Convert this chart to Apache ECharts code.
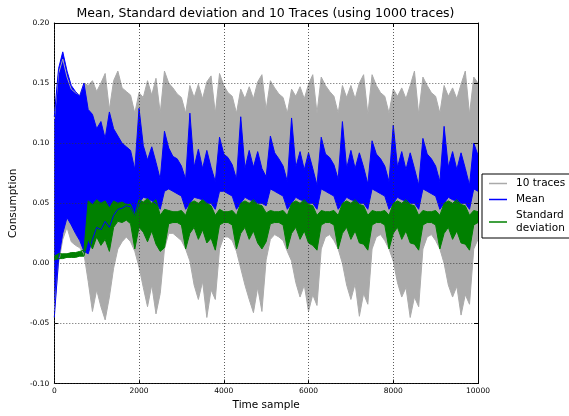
<!DOCTYPE html>
<html>
<head>
<meta charset="utf-8">
<script src="https://cdn.jsdelivr.net/npm/echarts@6/dist/echarts.min.js"></script>
<style>
html, body { margin: 0; padding: 0; background: #fff; }
#chart { width: 569px; height: 416px; }
</style>
</head>
<body>
<div id="chart"></div>
<script>
// envelopes, one value every 100 samples (0 .. 10000)
var samples = [];
for (var s = 0; s <= 10000; s += 100) samples.push(String(s));

var traceMax = [
	0.120, 0.158, 0.170, 0.155, 0.145, 0.142, 0.140, 0.150, 0.148, 0.152,
	0.143, 0.150, 0.158, 0.128, 0.152, 0.160, 0.146, 0.143, 0.140, 0.125,
	0.142, 0.138, 0.152, 0.140, 0.154, 0.125, 0.160, 0.150, 0.146, 0.141,
	0.138, 0.125, 0.148, 0.138, 0.149, 0.137, 0.151, 0.156, 0.125, 0.158,
	0.148, 0.142, 0.139, 0.125, 0.145, 0.137, 0.147, 0.137, 0.151, 0.157,
	0.128, 0.152, 0.146, 0.141, 0.138, 0.125, 0.145, 0.139, 0.147, 0.137,
	0.149, 0.157, 0.125, 0.155, 0.148, 0.143, 0.139, 0.125, 0.148, 0.138,
	0.148, 0.137, 0.150, 0.157, 0.124, 0.157, 0.148, 0.142, 0.139, 0.125,
	0.145, 0.139, 0.146, 0.137, 0.148, 0.160, 0.124, 0.155, 0.148, 0.142,
	0.139, 0.125, 0.148, 0.139, 0.146, 0.137, 0.149, 0.160, 0.124, 0.155, 0.150
];
var traceMin = [
	-0.040, 0.000, 0.020, 0.030, 0.018, 0.015, 0.013, 0.008, -0.015, -0.040,
	-0.022, -0.036, -0.047, -0.028, -0.004, 0.012, 0.018, 0.022, 0.018, 0.010,
	-0.003, -0.020, -0.036, -0.018, -0.042, -0.025, 0.012, 0.025, 0.025, 0.022,
	0.019, 0.012, 0.002, -0.018, -0.030, -0.015, -0.045, -0.022, -0.030, 0.012,
	0.022, 0.022, 0.019, 0.010, -0.004, -0.018, -0.030, -0.041, -0.020, -0.040,
	0.003, 0.020, 0.024, 0.022, 0.019, 0.010, 0.002, -0.016, -0.028, -0.018,
	-0.040, -0.026, -0.035, 0.012, 0.022, 0.024, 0.019, 0.012, 0.000, -0.018,
	-0.030, -0.017, -0.044, -0.025, -0.034, 0.012, 0.022, 0.024, 0.019, 0.012,
	0.002, -0.016, -0.028, -0.020, -0.045, -0.028, -0.036, 0.012, 0.022, 0.024,
	0.019, 0.012, 0.000, -0.018, -0.028, -0.019, -0.043, -0.026, -0.034, 0.012, 0.020
];
var meanMax = [
	0.122, 0.162, 0.176, 0.160, 0.148, 0.143, 0.139, 0.150, 0.128, 0.124,
	0.112, 0.118, 0.104, 0.126, 0.112, 0.106, 0.100, 0.097, 0.094, 0.078,
	0.129, 0.098, 0.086, 0.097, 0.084, 0.070, 0.110, 0.096, 0.089, 0.087,
	0.081, 0.070, 0.125, 0.080, 0.095, 0.079, 0.094, 0.080, 0.068, 0.105,
	0.091, 0.088, 0.082, 0.070, 0.122, 0.079, 0.094, 0.080, 0.093, 0.079,
	0.072, 0.106, 0.092, 0.087, 0.081, 0.068, 0.121, 0.080, 0.093, 0.078,
	0.092, 0.079, 0.065, 0.105, 0.091, 0.088, 0.082, 0.070, 0.118, 0.079,
	0.094, 0.079, 0.092, 0.080, 0.066, 0.102, 0.091, 0.087, 0.081, 0.068,
	0.115, 0.080, 0.093, 0.078, 0.092, 0.079, 0.065, 0.104, 0.091, 0.087,
	0.081, 0.068, 0.114, 0.080, 0.093, 0.078, 0.092, 0.079, 0.065, 0.100, 0.090
];
var meanMin = [
	-0.045, 0.003, 0.025, 0.038, 0.032, 0.025, 0.019, 0.010, 0.008, 0.020,
	0.030, 0.028, 0.035, 0.030, 0.040, 0.045, 0.046, 0.048, 0.047, 0.040,
	0.050, 0.055, 0.054, 0.052, 0.050, 0.045, 0.060, 0.062, 0.060, 0.058,
	0.056, 0.045, 0.050, 0.055, 0.054, 0.053, 0.050, 0.050, 0.045, 0.060,
	0.060, 0.058, 0.056, 0.045, 0.050, 0.055, 0.053, 0.052, 0.050, 0.050,
	0.048, 0.062, 0.060, 0.058, 0.056, 0.045, 0.050, 0.055, 0.053, 0.052,
	0.050, 0.050, 0.045, 0.062, 0.060, 0.058, 0.056, 0.045, 0.050, 0.055,
	0.053, 0.052, 0.050, 0.050, 0.045, 0.062, 0.060, 0.058, 0.056, 0.045,
	0.050, 0.055, 0.053, 0.052, 0.050, 0.050, 0.045, 0.062, 0.060, 0.058,
	0.056, 0.045, 0.050, 0.055, 0.053, 0.052, 0.050, 0.050, 0.045, 0.062, 0.060
];
var stdMax = [
	0.006, 0.008, 0.008, 0.008, 0.009, 0.009, 0.010, 0.011, 0.052, 0.049,
	0.053, 0.050, 0.052, 0.046, 0.052, 0.050, 0.051, 0.049, 0.049, 0.040,
	0.053, 0.051, 0.054, 0.050, 0.053, 0.040, 0.045, 0.044, 0.043, 0.043,
	0.044, 0.040, 0.050, 0.052, 0.050, 0.053, 0.050, 0.048, 0.040, 0.045,
	0.043, 0.043, 0.044, 0.040, 0.050, 0.052, 0.050, 0.053, 0.049, 0.048,
	0.042, 0.044, 0.043, 0.043, 0.044, 0.040, 0.050, 0.052, 0.050, 0.053,
	0.049, 0.048, 0.040, 0.044, 0.043, 0.043, 0.044, 0.040, 0.050, 0.052,
	0.050, 0.053, 0.049, 0.048, 0.040, 0.044, 0.043, 0.043, 0.044, 0.040,
	0.050, 0.052, 0.050, 0.053, 0.049, 0.048, 0.040, 0.044, 0.043, 0.043,
	0.044, 0.040, 0.050, 0.052, 0.050, 0.053, 0.049, 0.048, 0.040, 0.044, 0.043
];
var stdMin = [
	0.003, 0.004, 0.004, 0.005, 0.005, 0.005, 0.006, 0.006, 0.020, 0.012,
	0.022, 0.015, 0.020, 0.010, 0.030, 0.035, 0.034, 0.036, 0.033, 0.012,
	0.030, 0.026, 0.018, 0.027, 0.016, 0.010, 0.013, 0.033, 0.034, 0.034,
	0.032, 0.012, 0.025, 0.030, 0.020, 0.028, 0.017, 0.021, 0.011, 0.032,
	0.034, 0.034, 0.032, 0.012, 0.025, 0.030, 0.020, 0.027, 0.017, 0.012,
	0.018, 0.033, 0.034, 0.034, 0.032, 0.012, 0.025, 0.030, 0.020, 0.027,
	0.017, 0.015, 0.011, 0.032, 0.034, 0.034, 0.032, 0.012, 0.025, 0.030,
	0.020, 0.027, 0.017, 0.016, 0.011, 0.032, 0.034, 0.034, 0.032, 0.012,
	0.025, 0.030, 0.020, 0.027, 0.017, 0.016, 0.011, 0.032, 0.034, 0.034,
	0.032, 0.012, 0.025, 0.030, 0.020, 0.027, 0.017, 0.016, 0.011, 0.032, 0.034
];

var yTicks = { min: -0.10, max: 0.20, interval: 0.05 };
var LABEL_EVERY = 19; // one x label each 2000 samples (20 categories)

var FONT = 'DejaVu Sans';

// a band = lower line + stacked (hi - lo) area on top of it
function band(name, lo, hi, color, key) {
	var span = [];
	for (var i = 0; i < lo.length; i++) span.push(+(hi[i] - lo[i]).toFixed(4));
	return [
		{
			name: key + '_low',
			type: 'line',
			stack: key,
			stackStrategy: 'all',
			data: lo,
			symbol: 'none',
			silent: true,
			lineStyle: { color: color, width: 1 },
			itemStyle: { color: color }
		},
		{
			name: name,
			type: 'line',
			stack: key,
			stackStrategy: 'all',
			data: span,
			symbol: 'none',
			silent: true,
			lineStyle: { color: color, width: 1 },
			itemStyle: { color: color },
			areaStyle: { color: color, opacity: 1 }
		}
	];
}

function xAxisBase(extra) {
	var a = {
		type: 'category',
		data: samples,
		boundaryGap: false,
		axisLine: { onZero: false, lineStyle: { color: '#000', width: 1 } },
		axisTick: { inside: true, length: 4, interval: LABEL_EVERY, lineStyle: { color: '#000' } }
	};
	for (var k in extra) a[k] = extra[k];
	return a;
}

var myChart = echarts.init(document.getElementById('chart'));

var option = {
	animation: false,
	title: {
		text: 'Mean, Standard deviation and 10 Traces (using 1000 traces)',
		left: 265.5,
		top: 7,
		padding: 0,
		textAlign: 'center',
		textStyle: { fontFamily: FONT, fontSize: 12.5, fontWeight: 'normal', color: '#000' }
	},
	legend: {
		data: ['10 traces', 'Mean', 'Standard deviation'],
		orient: 'vertical',
		left: 482,
		top: 174,
		padding: [3, 8, 3, 7],
		itemGap: 3,
		itemWidth: 18,
		itemHeight: 1.5,
		icon: 'rect',
		borderColor: '#000',
		borderWidth: 1,
		borderRadius: 0,
		selectedMode: false,
		formatter: function (n) {
			return n === 'Standard deviation' ? 'Standard\ndeviation' : n;
		},
		textStyle: { fontFamily: FONT, fontSize: 10.5, color: '#000', lineHeight: 13, padding: [0, 0, 0, 4] }
	},
	grid: { left: 54, right: 91, top: 23, bottom: 28 },
	xAxis: [
		xAxisBase({
			name: 'Time sample', nameLocation: 'middle', nameGap: 15.5,
			nameTextStyle: { fontFamily: FONT, fontSize: 10.5, color: '#000' },
			axisLabel: { fontFamily: FONT, fontSize: 7.5, color: '#000', margin: 3.5, interval: LABEL_EVERY },
			splitLine: { show: false }
		}),
		xAxisBase({
			position: 'top',
			z: 10,
			axisLabel: { show: false },
			splitLine: { show: true, interval: LABEL_EVERY, lineStyle: { color: '#333', width: 0.8, type: [1, 2] } }
		})
	],
	yAxis: [
		{
			type: 'value', min: yTicks.min, max: yTicks.max, interval: yTicks.interval,
			name: 'Consumption', nameLocation: 'middle', nameGap: 35,
			nameTextStyle: { fontFamily: FONT, fontSize: 10.5, color: '#000' },
			axisLine: { show: true, onZero: false, lineStyle: { color: '#000', width: 1 } },
			axisTick: { show: true, inside: true, length: 4, lineStyle: { color: '#000' } },
			axisLabel: {
				fontFamily: FONT, fontSize: 7.5, color: '#000', margin: 5,
				formatter: function (v) { return v.toFixed(2); }
			},
			splitLine: { show: false }
		},
		{
			type: 'value', position: 'right', min: yTicks.min, max: yTicks.max, interval: yTicks.interval,
			z: 10,
			axisLine: { show: true, onZero: false, lineStyle: { color: '#000', width: 1 } },
			axisTick: { show: true, inside: true, length: 4, lineStyle: { color: '#000' } },
			axisLabel: { show: false },
			splitLine: { show: true, lineStyle: { color: '#333', width: 0.8, type: [1, 2] } }
		}
	],
	series: [].concat(
		band('10 traces', traceMin, traceMax, '#aaaaaa', 'traces'),
		band('Mean', meanMin, meanMax, '#0000ff', 'mean'),
		band('Standard deviation', stdMin, stdMax, '#008000', 'std')
	)
};
myChart.setOption(option);
</script>
</body>
</html>
